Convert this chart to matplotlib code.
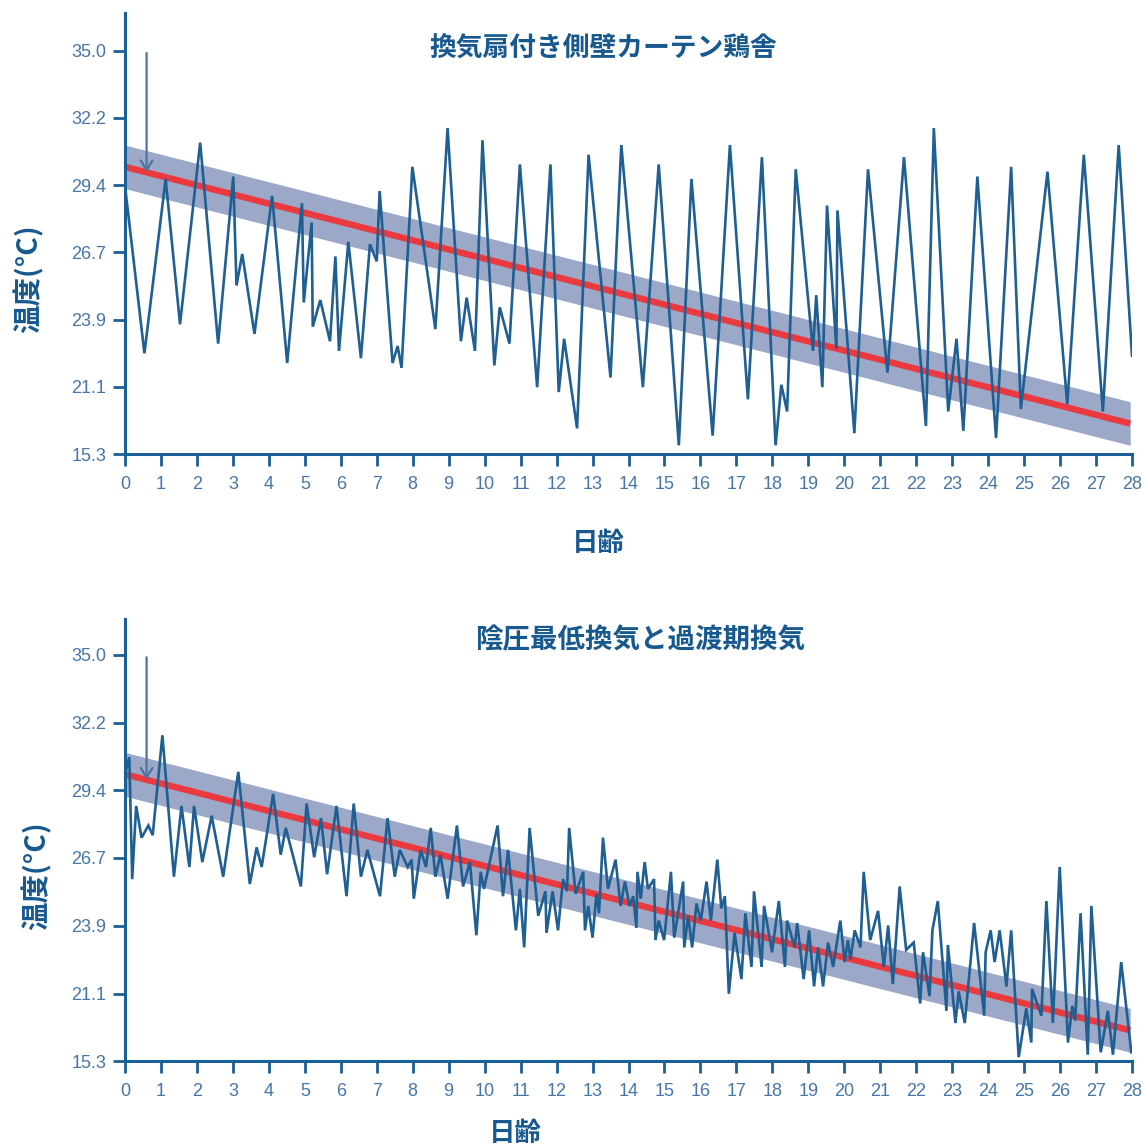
import matplotlib
matplotlib.use("Agg")
import matplotlib.pyplot as plt
import numpy as np

# ---------------- data ----------------
days_top = [0.0, 0.54, 1.13, 1.53, 2.09, 2.59, 3.01, 3.10, 3.26, 3.60,
            4.09, 4.51, 4.92, 4.97, 5.19, 5.22, 5.43, 5.70, 5.85, 5.95,
            6.21, 6.56, 6.81, 7.00, 7.08, 7.44, 7.58, 7.69, 7.99, 8.63,
            8.97, 9.34, 9.50, 9.73, 9.94, 10.27, 10.42, 10.69, 10.98, 11.46,
            11.83, 12.06, 12.21, 12.57, 12.89, 13.50, 13.80, 14.40, 14.84, 15.40,
            15.75, 16.34, 16.82, 17.32, 17.71, 18.09, 18.25, 18.41, 18.65, 19.13,
            19.22, 19.39, 19.52, 19.78, 19.81, 20.28, 20.66, 21.20, 21.66, 22.27,
            22.49, 22.89, 23.12, 23.31, 23.70, 24.22, 24.64, 24.91, 25.65, 26.20,
            26.66, 27.19, 27.63, 28.0]
temp_top = [29.4, 22.5, 29.7, 23.7, 31.2, 22.9, 29.8, 25.3, 26.6, 23.3,
            29.0, 22.1, 28.7, 24.6, 27.9, 23.6, 24.7, 23.0, 26.5, 22.6,
            27.1, 22.3, 27.0, 26.3, 29.2, 22.1, 22.8, 21.9, 30.2, 23.5,
            31.8, 23.0, 24.8, 22.6, 31.3, 22.0, 24.4, 22.9, 30.3, 21.1,
            30.3, 20.9, 23.1, 19.4, 30.7, 21.5, 31.1, 21.1, 30.3, 18.7,
            29.7, 19.1, 31.1, 20.6, 30.6, 18.7, 21.2, 20.1, 30.1, 22.6,
            24.9, 21.1, 28.6, 22.7, 28.4, 19.2, 30.1, 21.7, 30.6, 19.5,
            31.8, 20.1, 23.1, 19.3, 29.8, 19.0, 30.2, 20.2, 30.0, 20.4,
            30.7, 20.1, 31.1, 22.4]

days_bot = [0.0, 0.12, 0.20, 0.31, 0.46, 0.65, 0.77, 1.04, 1.36, 1.57,
            1.79, 1.92, 2.15, 2.41, 2.73, 3.15, 3.47, 3.66, 3.80, 4.12,
            4.33, 4.47, 4.89, 5.05, 5.26, 5.45, 5.62, 5.88, 6.16, 6.36,
            6.56, 6.74, 7.09, 7.30, 7.50, 7.64, 7.86, 7.97, 8.03, 8.22,
            8.37, 8.50, 8.63, 8.77, 8.97, 9.23, 9.40, 9.59, 9.77, 9.89,
            9.98, 10.36, 10.51, 10.65, 10.87, 10.98, 11.10, 11.25, 11.49, 11.69,
            11.72, 11.89, 12.04, 12.18, 12.29, 12.35, 12.53, 12.74, 12.79, 12.88,
            13.00, 13.11, 13.18, 13.29, 13.43, 13.64, 13.78, 13.90, 14.03, 14.13,
            14.22, 14.25, 14.34, 14.45, 14.54, 14.71, 14.75, 14.84, 14.99, 15.18,
            15.27, 15.52, 15.55, 15.66, 15.77, 15.89, 16.01, 16.17, 16.29, 16.47,
            16.58, 16.68, 16.79, 16.95, 17.14, 17.25, 17.42, 17.49, 17.70, 17.77,
            17.99, 18.18, 18.35, 18.41, 18.62, 18.69, 18.87, 19.02, 19.16, 19.27,
            19.41, 19.55, 19.69, 19.89, 20.01, 20.10, 20.17, 20.29, 20.45, 20.54,
            20.72, 20.94, 21.10, 21.22, 21.35, 21.54, 21.72, 21.93, 22.11, 22.19,
            22.37, 22.45, 22.60, 22.84, 22.88, 23.09, 23.18, 23.35, 23.61, 23.89,
            23.93, 24.07, 24.18, 24.32, 24.51, 24.64, 24.85, 25.06, 25.20, 25.22,
            25.48, 25.62, 25.80, 25.99, 26.22, 26.34, 26.42, 26.57, 26.77, 26.87,
            27.13, 27.33, 27.47, 27.70, 27.98]
temp_bot = [30.1, 30.8, 25.8, 28.8, 27.5, 28.0, 27.6, 31.7, 25.9, 28.8,
            26.3, 28.8, 26.5, 28.4, 25.9, 30.2, 25.6, 27.1, 26.3, 29.3,
            26.8, 27.9, 25.5, 28.9, 26.7, 28.3, 26.0, 28.8, 25.1, 28.9,
            25.9, 27.0, 25.1, 28.3, 25.9, 27.0, 26.3, 26.6, 25.0, 27.0,
            26.3, 27.9, 25.9, 26.8, 25.0, 28.0, 25.5, 26.5, 23.5, 26.1,
            25.4, 28.0, 25.1, 27.0, 23.7, 25.4, 23.0, 27.9, 24.3, 25.3,
            23.6, 25.3, 23.7, 25.8, 25.3, 27.9, 25.2, 26.1, 23.7, 24.7,
            23.4, 25.2, 24.4, 27.5, 25.4, 26.6, 24.7, 25.7, 24.7, 25.1,
            23.8, 26.1, 25.0, 26.5, 25.4, 25.8, 23.3, 24.1, 23.3, 26.1,
            23.4, 25.7, 23.0, 24.3, 23.0, 24.8, 24.1, 25.7, 24.1, 26.6,
            24.6, 25.1, 21.1, 23.6, 21.7, 24.4, 22.2, 25.3, 22.2, 24.7,
            22.8, 24.9, 22.2, 24.1, 23.0, 24.0, 21.7, 23.7, 21.4, 23.0,
            21.4, 23.2, 22.2, 24.1, 22.4, 23.3, 22.5, 23.7, 23.0, 26.1,
            23.3, 24.5, 22.2, 23.9, 21.5, 25.5, 22.9, 23.2, 20.7, 22.8,
            21.0, 23.7, 24.9, 20.4, 23.1, 19.9, 21.2, 19.9, 24.0, 20.2,
            22.8, 23.7, 22.4, 23.7, 21.4, 23.7, 18.5, 20.5, 19.1, 21.3,
            20.2, 24.9, 19.9, 26.3, 19.1, 20.6, 20.0, 24.4, 18.6, 24.7,
            18.7, 20.4, 18.6, 22.4, 18.7]

trend_days = [0.0, 27.95]
trend_top = [30.2, 19.6]
trend_bot = [30.1, 19.6]
band_halfwidth = 0.9

arrow_day = 0.6
arrow_from = 34.9

ytick_values = [18.33, 21.11, 23.89, 26.67, 29.44, 32.22, 35.0]
ytick_labels = ["15.3", "21.1", "23.9", "26.7", "29.4", "32.2", "35.0"]
xtick_values = list(range(0, 29))

title_top = "換気扇付き側壁カーテン鶏舎"
title_bot = "陰圧最低換気と過渡期換気"
xlabel = "日齢"
ylabel = "温度(°C)"

# ---------------- style ----------------
CJK = ["Noto Sans CJK JP", "DejaVu Sans"]
plt.rcParams["font.family"] = CJK

DARK = "#17598f"
SPINE = "#1c5f96"
TICKC = "#4676a8"
LINE = "#1f5f92"
BAND = "#9ba8c8"
RED = "#ea3a3f"
ARROW = "#4d73a0"

W, H = 1144, 1147
fig = plt.figure(figsize=(W / 100, H / 100), dpi=100)


def make_axes(top_px, bottom_px, ytop):
    ax = fig.add_axes([125 / W, 1 - bottom_px / H, (1132 - 125) / W, (bottom_px - top_px) / H])
    ax.set_xlim(0, 28)
    ax.set_ylim(18.33, ytop)
    for s in ["top", "right"]:
        ax.spines[s].set_visible(False)
    for s in ["left", "bottom"]:
        ax.spines[s].set_color(SPINE)
        ax.spines[s].set_linewidth(2.2)
    ax.set_yticks(ytick_values)
    ax.set_yticklabels(ytick_labels)
    ax.set_xticks(xtick_values)
    ax.set_xticklabels([str(v) for v in xtick_values])
    ax.tick_params(axis="both", direction="out", length=8.5, width=2.0, color=SPINE,
                   labelcolor=TICKC, labelsize=13)
    ax.tick_params(axis="y", pad=5)
    ax.tick_params(axis="x", pad=7)
    for lab in ax.get_xticklabels() + ax.get_yticklabels():
        lab.set_fontfamily(["Liberation Sans", "DejaVu Sans"])
    return ax


def draw(ax, days, temps, trend):
    d = np.array(trend_days)
    t = np.array(trend)
    ax.fill_between(d, t - band_halfwidth, t + band_halfwidth, color=BAND, lw=0, zorder=1)
    ax.plot(days, temps, color=LINE, lw=1.9, zorder=3, solid_joinstyle="miter")
    ax.plot(d, t, color=RED, lw=4.6, zorder=2, solid_capstyle="butt")
    y_end = np.interp(arrow_day, d, t)
    ax.annotate("", xy=(arrow_day, y_end), xytext=(arrow_day, arrow_from),
                arrowprops=dict(arrowstyle="->,head_width=0.3,head_length=0.5",
                                color=ARROW, lw=1.6, shrinkA=0, shrinkB=0,
                                mutation_scale=14), zorder=4)


ax1 = make_axes(13.3, 454.3, 36.54)
draw(ax1, days_top, temp_top, trend_top)
ax2 = make_axes(619.2, 1061.3, 36.46)
draw(ax2, days_bot, temp_bot, trend_bot)

# titles and labels
fig.text(603 / W, 1 - 49 / H, title_top, ha="center", va="center", fontsize=19.3,
         fontweight="bold", color=DARK)
fig.text(640 / W, 1 - 640 / H, title_bot, ha="center", va="center", fontsize=19.8,
         fontweight="bold", color=DARK)
fig.text(598 / W, 1 - 543 / H, xlabel, ha="center", va="center", fontsize=19,
         fontweight="bold", color=DARK)
fig.text(515 / W, 1 - 1133 / H, xlabel, ha="center", va="center", fontsize=19,
         fontweight="bold", color=DARK)
fig.text(28 / W, 1 - 279 / H, ylabel, ha="center", va="center", rotation=90,
         fontsize=20.5, fontweight="bold", color=DARK)
fig.text(36 / W, 1 - 876 / H, ylabel, ha="center", va="center", rotation=90,
         fontsize=20.5, fontweight="bold", color=DARK)

fig.savefig("out.png", dpi=100, facecolor="white")
